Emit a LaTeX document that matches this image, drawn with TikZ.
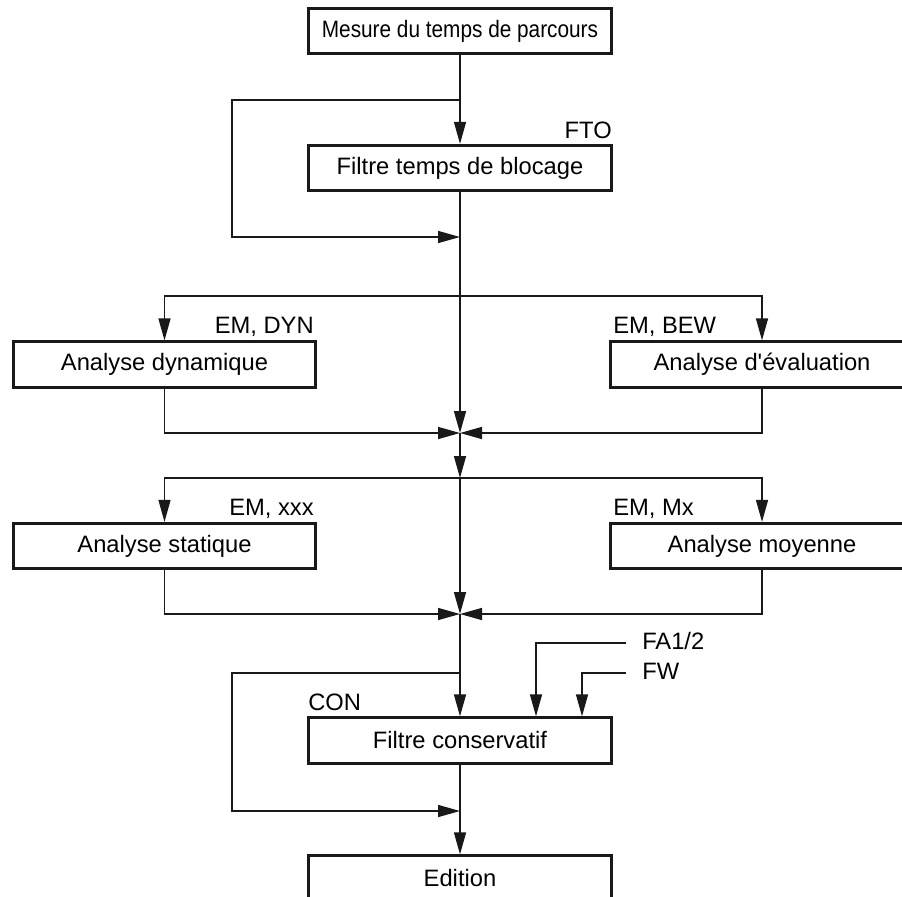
\documentclass[tikz,border=0pt]{standalone}
\usepackage{fontspec}
\usepackage{graphicx}
\newfontfamily\nf{Liberation Sans}
\usetikzlibrary{arrows.meta}
\begin{document}
\begin{tikzpicture}[x=0.75pt,y=-0.75pt,
  every node/.style={font=\nf\fontsize{17.8}{20}\selectfont},
  box/.style={draw=black!90,line width=2.2pt,minimum width=227pt,minimum height=34pt,inner sep=0pt,fill=white},
  lbl/.style={inner sep=0pt},
  conn/.style={draw=black!90,line width=1.1pt},
  arr/.style={conn,-{Triangle[length=16.5pt,width=9pt]}}]
\useasboundingbox (0,0) rectangle (902,896);
\clip (0,0) rectangle (902,896);

% boxes
\node[box] (mesure) at (460,31) {\scalebox{0.876}[1]{Mesure du temps de parcours}};
\node[box] (fto) at (460,168) {Filtre temps de blocage};
\node[box] (dyn) at (164.5,364.5) {Analyse dynamique};
\node[box] (eval) at (762,364.5) {Analyse d'évaluation};
\node[box] (stat) at (164.5,546) {Analyse statique};
\node[box] (moy) at (762,546) {Analyse moyenne};
\node[box] (con) at (460,740.5) {Filtre conservatif};
\node[box] (edit) at (460,878.5) {Edition};

% labels
\node[lbl,anchor=base east] (lfto) at (612,138) {FTO};
\node[lbl,anchor=base east] (ldyn) at (314,333) {EM, DYN};
\node[lbl,anchor=base west] (lbew) at (613,333) {EM, BEW};
\node[lbl,anchor=base east] (lxxx) at (314,515) {EM, xxx};
\node[lbl,anchor=base west] (lmx) at (613,515) {EM, Mx};
\node[lbl,anchor=base west] (lcon) at (308,710) {CON};
\node[lbl,anchor=base west] (lfa) at (642,649) {FA1/2};
\node[lbl,anchor=base west] (lfw) at (642,679) {FW};

% coordinates
\coordinate (l1) at (460,100);
\coordinate (l1b) at (232,237);
\coordinate (r1) at (460,237);
\coordinate (b1) at (460,296);
\coordinate (j1) at (460,433);
\coordinate (b2) at (460,478);
\coordinate (j2) at (460,614);
\coordinate (l2) at (460,673);
\coordinate (l2b) at (232,811);
\coordinate (r2) at (460,811);
\coordinate (fa) at (626,643);
\coordinate (fw) at (626,673);

% connectors
\draw[arr] (mesure.south) -- (fto.north);
\draw[arr] (l1) -| (l1b) -- (r1);
\draw[conn] (fto.south) -- (b1);
\draw[arr] (b1) -- (j1);
\draw[arr] (b1) -| (dyn.north);
\draw[arr] (b1) -| (eval.north);
\draw[arr] (dyn.south) |- (j1);
\draw[arr] (eval.south) |- (j1);
\draw[arr] (j1) -- (b2);
\draw[arr] (b2) -- (j2);
\draw[arr] (b2) -| (stat.north);
\draw[arr] (b2) -| (moy.north);
\draw[arr] (stat.south) |- (j2);
\draw[arr] (moy.south) |- (j2);
\draw[arr] (j2) -- (con.north);
\draw[arr] (l2) -| (l2b) -- (r2);
\draw[arr] (con.south) -- (edit.north);
\draw[arr] (fa) -| (con.north -| 536,0);
\draw[arr] (fw) -| (con.north -| 582,0);
\end{tikzpicture}
\end{document}
